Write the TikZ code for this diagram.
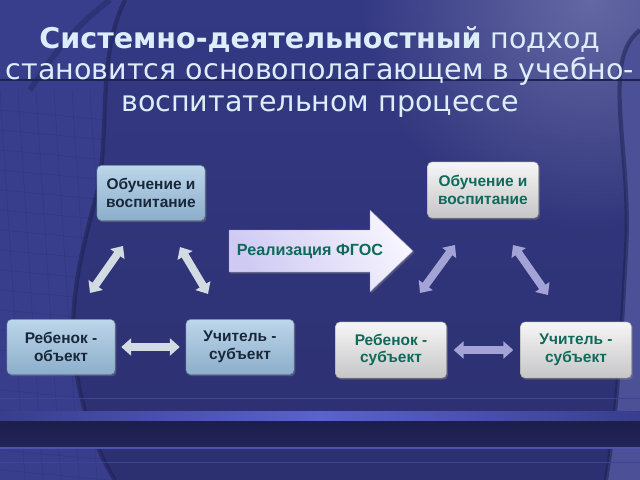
\documentclass[tikz,border=0pt]{standalone}
\usepackage{fontspec}
\setmainfont{DejaVu Sans}
\newfontfamily\boxfont{Liberation Sans}
\usepackage{tikz}
\usetikzlibrary{positioning,arrows.meta,shadows,calc,fadings}

\definecolor{bgmain}{HTML}{2C3070}
\definecolor{bgtop}{HTML}{343984}
\definecolor{bgside}{HTML}{383E8C}
\definecolor{bgdark}{HTML}{1C1F4C}
\definecolor{bgline}{HTML}{5A62CC}
\definecolor{titlecol}{HTML}{DDEEFA}
\definecolor{lefttop}{HTML}{BCD6EA}
\definecolor{leftbot}{HTML}{8CAECB}
\definecolor{lefttext}{HTML}{18283A}
\definecolor{righttop}{HTML}{F6F6F6}
\definecolor{rightbot}{HTML}{C6C6C8}
\definecolor{righttext}{HTML}{0E6A5A}
\definecolor{leftarr}{HTML}{D2DAE2}
\definecolor{rightarr}{HTML}{A3A3D6}
\definecolor{fgosl}{HTML}{F6F4FE}
\definecolor{fgosr}{HTML}{BEB7EE}

\tikzfading[name=glow, inner color=transparent!25, outer color=transparent!100]

\tikzset{
    leftbox/.style={rounded corners=3pt, top color=lefttop, bottom color=leftbot,
        draw=leftbot!70!black, line width=0.3pt, minimum width=2.7cm, minimum height=1.375cm,
        align=center, text=lefttext, font=\boxfont\bfseries\fontsize{11}{12.5}\selectfont,
        drop shadow={opacity=0.45, shadow xshift=1pt, shadow yshift=-1.2pt}},
    rightbox/.style={leftbox, top color=righttop, bottom color=rightbot,
        draw=rightbot!70!black, text=righttext, minimum width=2.775cm, minimum height=1.4cm},
    leftlink/.style={draw=leftarr, line width=5.5pt,
        {Triangle[width=12pt,length=7pt]}-{Triangle[width=12pt,length=7pt]}},
    rightlink/.style={leftlink, draw=rightarr},
}

\begin{document}
\begin{tikzpicture}[x=0.025cm, y=-0.025cm]

        \useasboundingbox (0,0) rectangle (640,480);

        % background
        \shade[top color=bgtop, bottom color=bgmain] (0,0) rectangle (640,480);
        \fill[bgside!70!white, path fading=glow] (590,0) circle (230);
        \path[fill=bgside] (0,0) -- (125,0) .. controls (95,60) and (112,140) .. (95,200)
            .. controls (80,260) and (62,320) .. (82,400) .. controls (92,440) and (108,470) .. (115,480)
            -- (0,480) -- cycle;
        \begin{scope}
            \clip (0,0) -- (125,0) .. controls (95,60) and (112,140) .. (95,200)
                .. controls (80,260) and (62,320) .. (82,400) .. controls (92,440) and (108,470) .. (115,480)
                -- (0,480) -- cycle;
            \foreach \y in {110,130,...,470}
                \draw[bgmain, line width=0.3pt, opacity=0.6] (0,\y) -- (130,\y+12);
            \foreach \x in {0,18,...,126}
                \draw[bgmain, line width=0.3pt, opacity=0.6] (\x,90) -- (\x+25,480);
        \end{scope}
        \draw[bgdark, line width=3pt, opacity=0.5] (125,0) .. controls (95,60) and (112,140) .. (95,200)
            .. controls (80,260) and (62,320) .. (82,400) .. controls (92,440) and (108,470) .. (115,480);
        \draw[bgdark, line width=4pt, opacity=0.35] (110,0) .. controls (70,30) and (50,60) .. (30,90);
        \path[fill=bgside!90!white] (640,30) .. controls (600,60) and (632,150) .. (626,250)
            .. controls (621,350) and (616,420) .. (606,480) -- (640,480) -- cycle;
        \draw[bgdark, line width=3pt, opacity=0.5] (640,30) .. controls (600,60) and (632,150) .. (626,250)
            .. controls (621,350) and (616,420) .. (606,480);
        \draw[bgdark!80!bgmain, line width=1pt] (0,80) -- (640,80);
        \shade[left color=bgside, right color=bgside, middle color=bgline] (0,411) rectangle (640,420);
        \shade[top color=bgdark, bottom color=bgdark!70!bgmain] (0,421) rectangle (640,446);
        \draw[bgline!70!bgmain, line width=1pt] (0,448) -- (640,448);
        \draw[bgline!40!bgmain, line width=0.6pt] (0,462) -- (640,462);
        \draw[bgline!40!bgmain, line width=0.6pt] (0,398) -- (640,398);

        % title
        \node[text=titlecol, align=center, font=\fontsize{20.3}{22.3}\selectfont] (title) at (320,72)
            {\textbf{Системно-деятельностный} подход\\становится основополагающем в учебно-\\воспитательном процессе};

        % left triangle
        \node[leftbox] (ob1) at (151,193) {Обучение и\\воспитание};
        \node[leftbox] (ro1) at (61,347) {Ребенок -\\объект};
        \node[leftbox] (uc1) at (240,347) {Учитель -\\субъект};

        % right triangle
        \node[rightbox] (ob2) at (483,190) {Обучение и\\воспитание};
        \node[rightbox] (ro2) at (391,350) {Ребенок -\\субъект};
        \node[rightbox] (uc2) at (576,350) {Учитель -\\субъект};

        % big arrow
        \path[top color=fgosl, bottom color=fgosr!70!fgosl, shading angle=-60, draw=fgosr!80!black, line width=0.3pt,
            drop shadow={opacity=0.4, shadow xshift=1pt, shadow yshift=-1.2pt}]
            (229,230) -- (370,230) -- (370,210) -- (413,251) -- (370,292) -- (370,272) -- (229,272) -- cycle;
        \node[text=righttext, font=\boxfont\bfseries\fontsize{11.5}{13}\selectfont] (fgos) at (310,251) {Реализация ФГОС};

        \coordinate (a1s) at (90,293);
        \coordinate (a1e) at (123,246);
        \coordinate (a2s) at (180,247);
        \coordinate (a2e) at (208,294);
        \coordinate (b1s) at (420,293);
        \coordinate (b1e) at (455,245);
        \coordinate (b2s) at (513,245);
        \coordinate (b2e) at (548,295);

        \path[leftlink] (a1s) -- (a1e);
        \path[leftlink] (a2s) -- (a2e);
        \path[leftlink, shorten <=0.15cm, shorten >=0.15cm] (ro1.east) -- (uc1.west);

        \path[rightlink] (b1s) -- (b1e);
        \path[rightlink] (b2s) -- (b2e);
        \path[rightlink, shorten <=0.175cm, shorten >=0.175cm] (ro2.east) -- (uc2.west);

    \end{tikzpicture}
\end{document}
